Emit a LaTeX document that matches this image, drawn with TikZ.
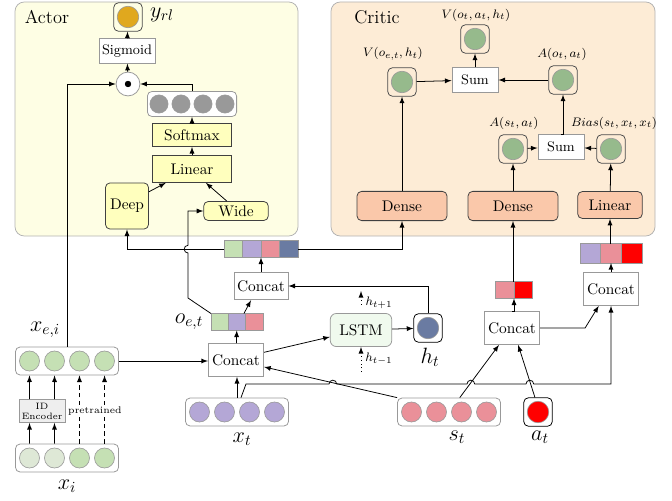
\documentclass[tikz,border=0pt]{standalone}
\usepackage{amsmath,amssymb}
\usepackage{tikz}

\definecolor{actorbg}{RGB}{254,254,228}
\definecolor{criticbg}{RGB}{253,236,214}
\definecolor{yfill}{RGB}{255,255,190}
\definecolor{salmon}{RGB}{250,200,170}
\definecolor{lstmfill}{RGB}{240,250,238}
\definecolor{idfill}{RGB}{238,238,238}
\definecolor{lgreen}{RGB}{197,224,180}
\definecolor{pgreen}{RGB}{222,232,214}
\definecolor{lav}{RGB}{180,167,214}
\definecolor{pinkc}{RGB}{234,144,153}
\definecolor{slate}{RGB}{106,123,162}
\definecolor{gold}{RGB}{224,168,30}
\definecolor{sage}{RGB}{150,186,140}

\tikzset{
   panel/.style={draw=black!30, rounded corners=6pt},
   box/.style={draw=black!40, fill=white, inner sep=2pt},
   ybox/.style={draw=black!75, fill=yfill, inner sep=2pt},
   dbox/.style={draw=black!75, fill=salmon, rounded corners=3pt, inner sep=2pt},
   grp/.style={draw=black!40, fill=white, rounded corners=3pt, inner sep=0pt},
   one/.style={draw=black!70, rounded corners=3pt, minimum size=18.5pt, inner sep=0pt},
   vec/.style={inner sep=0pt, outer sep=0pt},
   ball/.style={draw=black!40, line width=0.4pt},
   cell/.style={draw=black!40, line width=0.6pt},
}

\begin{document}
\begin{tikzpicture}[x=0.65pt, y=-0.65pt, >=latex, line width=0.5pt] % actor and critic
      \useasboundingbox (0,0) rectangle (672,500);
      \filldraw[panel, fill=actorbg] (15,2) rectangle (298,236);
      \filldraw[panel, fill=criticbg] (331,2) rectangle (655,236);
      \node[name=actl] at (47,17) {\large Actor};
      \node[name=crtl] at (377,17) {\large Critic};

      % actor
      \node[name=yrl, one] at (128,17) {};
      \filldraw[ball, fill=gold](yrl.center) circle (7pt);
      \node[name=yrll] at (162,15) {\Large $y_{rl}$};
      \node[name=sig, box, minimum width=36pt, minimum height=16pt] at (127,51) {\small Sigmoid};
      \node[name=dotn, circle, draw=black!40, fill=white, minimum size=15.5pt, inner sep=0pt] at (128,84) {};
      \filldraw(dotn.center) circle (1.8pt);
      \node[name=gry, grp, minimum width=58pt, minimum height=16.3pt] at (192,104) {};
      \foreach \d in {-33,-11,11,33}
         \filldraw[ball, fill=black!40](gry.center) ++(\d,0) circle (5.9pt);
      \node[name=soft, ybox, minimum width=51pt, minimum height=15pt] at (192,135) {Softmax};
      \node[name=lin, ybox, minimum width=51pt, minimum height=17.5pt] at (192,169) {Linear};
      \node[name=deep, ybox, rounded corners=3pt, minimum width=28pt, minimum height=30pt] at (127,206) {Deep};
      \node[name=wide, ybox, rounded corners=3pt, minimum width=42pt, minimum height=12.4pt] at (236,211) {Wide};

      % critic
      \node[name=vn, one] at (402,82) {};
      \node[name=vo, one] at (475,39) {};
      \node[name=ao, one] at (563,80) {};
      \node[name=as, one] at (513,149) {};
      \node[name=bias, one] at (611,149) {};
      \foreach \n in {vn,vo,ao,as,bias}
         \filldraw[ball, fill=sage](\n.center) circle (7pt);
      \node[name=vnl, font=\footnotesize] at (393,54) {$V(o_{e,t},h_t)$};
      \node[name=vol, font=\footnotesize] at (476,15) {$V(o_t,a_t,h_t)$};
      \node[name=aol, font=\footnotesize] at (562,54) {$A(o_t,a_t)$};
      \node[name=asl, font=\footnotesize] at (514,123) {$A(s_t,a_t)$};
      \node[name=biasl, font=\footnotesize] at (614,123) {$Bias(s_t,x_t,x_t)$};
      \node[name=sum1, box, minimum width=30pt, minimum height=16pt] at (475,80) {\small Sum};
      \node[name=sum2, box, minimum width=30pt, minimum height=16pt] at (561,147) {\small Sum};
      \node[name=dns1, dbox, minimum width=58.5pt, minimum height=19pt] at (402,206) {Dense};
      \node[name=dns2, dbox, minimum width=58.5pt, minimum height=19pt] at (513,206) {Dense};
      \node[name=lin2, dbox, minimum width=42pt, minimum height=17.5pt] at (610,205) {Linear};

      % inputs
      \node[name=xei, grp, minimum width=67pt, minimum height=18.2pt] at (67,361) {};
      \node[name=xi, grp, minimum width=67pt, minimum height=18.2pt] at (67,458) {};
      \node[name=xt, grp, minimum width=67pt, minimum height=18.2pt] at (237,412) {};
      \node[name=st, grp, minimum width=67pt, minimum height=18.2pt] at (449,412) {};
      \foreach \d in {-37.5,-12.5,12.5,37.5} {
         \filldraw[ball, fill=lgreen](xei.center) ++(\d,0) circle (6.5pt);
         \filldraw[ball, fill=lav](xt.center) ++(\d,0) circle (6.5pt);
         \filldraw[ball, fill=pinkc](st.center) ++(\d,0) circle (6.5pt);
      }
      \foreach \d/\c in {-37.5/pgreen,-12.5/pgreen,12.5/lgreen,37.5/lgreen}
         \filldraw[ball, fill=\c](xi.center) ++(\d,0) circle (6.5pt);
      \node[name=at, one, draw=black] at (538,412) {};
      \filldraw[ball, fill=red](at.center) circle (7pt);
      \node[name=ht, one, draw=black] at (428,328) {};
      \filldraw[ball, fill=slate](ht.center) circle (7pt);
      \node[name=xeil] at (45,330) {\Large $x_{e,i}$};
      \node[name=xil] at (67,486) {\Large $x_i$};
      \node[name=xtl] at (242,439) {\Large $x_t$};
      \node[name=stl] at (457,437) {\Large $s_t$};
      \node[name=atl] at (540,437) {\Large $a_t$};
      \node[name=htl] at (430,357) {\Large $h_t$};
      \node[name=ide, draw=black!40, fill=idfill, align=center, inner sep=1pt, minimum width=30pt, minimum height=15pt,
            font=\fontsize{6}{6.5}\selectfont] at (42,411) {ID\\Encoder};

      % middle
      \node[name=cc2, box, minimum width=36pt, minimum height=21.5pt] at (236,360) {Concat};
      \node[name=oet, vec, minimum width=33.8pt, minimum height=11pt] at (237,322) {};
      \foreach \c [count=\i] in {lgreen,lav,pinkc}
         \filldraw[cell, fill=\c](oet.west) ++(\i*17.33-17.33,-8.5) rectangle ++(17.33,17);
      \node[name=oetl] at (189,322) {\Large $o_{e,t}$};
      \node[name=cc1, box, minimum width=34pt, minimum height=18pt] at (261,286) {Concat};
      \node[name=cv, vec, minimum width=48.1pt, minimum height=11pt] at (261,249) {};
      \foreach \c [count=\i] in {lgreen,lav,pinkc,slate}
         \filldraw[cell, fill=\c](cv.west) ++(\i*18.5-18.5,-8.5) rectangle ++(18.5,17);
      \node[name=lstm, draw=black!40, fill=lstmfill, rounded corners=4pt, minimum width=40pt, minimum height=21.5pt] at (361,330) {LSTM};
      \coordinate (hup) at (361,291);
      \coordinate (hlo) at (361,372);
      \node[name=hupl, font=\footnotesize] at (379,303) {$h_{t+1}$};
      \node[name=hlol, font=\footnotesize] at (379,359) {$h_{t-1}$};
      \node[name=cc3, box, minimum width=36pt, minimum height=21.5pt] at (512,328) {Concat};
      \node[name=v2, vec, minimum width=24pt, minimum height=11pt] at (514,290) {};
      \foreach \c [count=\i] in {pinkc,red}
         \filldraw[cell, fill=\c](v2.west) ++(\i*18.5-18.5,-8.5) rectangle ++(18.5,17);
      \node[name=cc4, box, minimum width=36pt, minimum height=21.5pt] at (611,289) {Concat};
      \node[name=v3, vec, minimum width=40.3pt, minimum height=13pt] at (611,253) {};
      \foreach \c [count=\i] in {lav,pinkc,red}
         \filldraw[cell, fill=\c](v3.west) ++(\i*20.67-20.67,-10) rectangle ++(20.67,20);

      % actor arrows
      \draw[->] (sig) -- (yrl);
      \draw[->] (dotn) -- (sig);
      \draw[->] (gry.north) |- (dotn.east);
      \draw[->] (soft) -- (gry);
      \draw[->] (lin) -- (soft);
      \draw[->] ([yshift=-6pt]deep.north east) -- ([xshift=-17pt]lin.south);
      \draw[->] ([xshift=-6pt]wide.north) -- ([xshift=9pt]lin.south);
      \draw[->] (xei.north) |- (dotn.west);
      \draw[->] (cv.west) -| (deep.south);
      \draw[->] (oet.north west) -- (188,298) -- (188,253) arc[start angle=270, end angle=90, radius=2.5pt] |- (wide.west);

      % critic arrows
      \draw[->] (cv.east) -| (dns1.south);
      \draw[->] (dns1) -- (vn);
      \draw[->] (vn) -- (sum1);
      \draw[->] (ao) -- (sum1);
      \draw[->] (sum1) -- (vo);
      \draw[->] (dns2) -- (as);
      \draw[->] (as) -- (sum2);
      \draw[->] (bias) -- (sum2);
      \draw[->] (sum2.north) -- (sum2.north -| ao.south) -- (ao.south);
      \draw[->] (lin2) -- (bias);

      % input arrows
      \draw[->] ([xshift=-24.4pt]xi.north) -- ([xshift=-8.1pt]ide.south);
      \draw[->] ([xshift=-8.1pt]xi.north) -- ([xshift=8.1pt]ide.south);
      \draw[->] ([xshift=-8.1pt]ide.north) -- ([xshift=-24.4pt]xei.south);
      \draw[->] ([xshift=8.1pt]ide.north) -- ([xshift=-8.1pt]xei.south);
      \draw[->, densely dashed] ([xshift=8.1pt]xi.north) -- ([xshift=8.1pt]xei.south);
      \draw[->, densely dashed] ([xshift=24.4pt]xi.north) -- ([xshift=24.4pt]xei.south);
      \node[name=pre, fill=white, inner sep=1pt, font=\fontsize{6.3}{7}\selectfont] at (95,411) {pretrained};
      \draw[->] (xei.east) -- (xei.east -| cc2.west);
      \draw[->] (xt.north) -- (xt.north |- cc2.south);
      \draw[->] (st.north west) -- ([yshift=-4.5pt]cc2.east);
      \draw[->] ([xshift=2.6pt]xt.north) -- (246,384) -- (329,384) arc[start angle=180, end angle=0, radius=2.5pt]
            -- (467,384) arc[start angle=180, end angle=0, radius=2.5pt]
            -- (526,384) arc[start angle=180, end angle=0, radius=2.5pt] -| (cc4.south);

      % middle arrows
      \draw[->] (cc2) -- (oet);
      \draw[->] ([xshift=4.5pt]oet.north) -- ([xshift=-6.5pt]cc1.south);
      \draw[->] (cc1.north) -- (cc1.north |- cv.south);
      \draw[->] (ht.north) |- (cc1.east);
      \draw[->] ([yshift=5pt]cc2.east) -- ([yshift=-4.5pt]lstm.west);
      \draw[->] (lstm) -- (ht);
      \draw[->, dotted] ([yshift=5.5pt]lstm.north) -- (hup);
      \draw[->, dotted] (hlo) -- (lstm.south);
      \draw[->] ([xshift=7pt]st.north) -- ([xshift=-8.5pt]cc3.south);
      \draw[->] ([xshift=-2pt]at.north) -- ([xshift=4pt]cc3.south);
      \draw[->] (cc3.north) -- (cc3.north -| v2.south) -- (v2.south);
      \draw[->] (v2.north) -- (v2.north -| dns2.south) -- (dns2.south);
      \draw[->] (cc3.east) -- ++(45,0) -- ([xshift=-8pt]cc4.south);
      \draw[->] (cc4) -- (v3);
      \draw[->] (v3.north) -- (v3.north -| lin2.south) -- (lin2.south);
   \end{tikzpicture}
\end{document}
